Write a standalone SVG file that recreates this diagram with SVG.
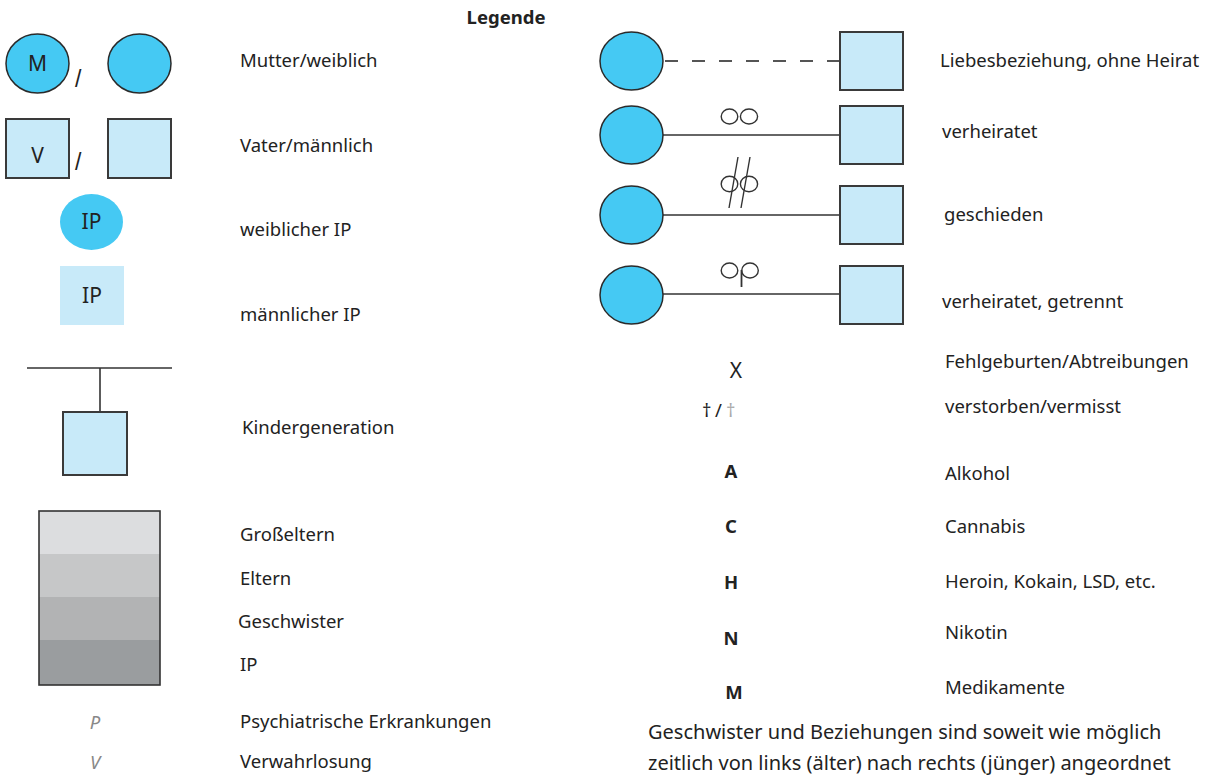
<svg xmlns="http://www.w3.org/2000/svg" width="1227" height="780" viewBox="0 0 1227 780">
<style>
text{font-family:"Noto Sans","Liberation Sans",Arial,sans-serif;font-size:18.5px;fill:#222}
.f{fill:#45c9f3;stroke:#2a2a2a;stroke-width:1.5}
.fn{fill:#45c9f3}
.m{fill:#c8eaf9;stroke:#3a3a3a;stroke-width:2}
.mn{fill:#c8eaf9}
.ln{stroke:#333;stroke-width:1.6;fill:none}
.sym{stroke:#333;stroke-width:1.4;fill:none}
.c{text-anchor:middle}
.b{font-weight:bold}
.g{fill:#888;font-style:italic}
.sl{font-family:"Liberation Sans",Arial,sans-serif;font-size:23px}
.in{font-size:21px}
.bt{font-size:20px}
</style>
<rect width="1227" height="780" fill="#fff"/>
<text class="c b" x="506" y="24">Legende</text>

<g id="mother">
<ellipse class="f" cx="37.5" cy="63.5" rx="31.5" ry="29.5"/>
<text class="c in" x="37.5" y="71">M</text>
<text class="sl" x="75" y="87">/</text>
<ellipse class="f" cx="139.5" cy="63.5" rx="31.5" ry="29.5"/>
</g>
<g id="father">
<rect class="m" x="6" y="119" width="63" height="59"/>
<text class="c in" x="37.5" y="163">V</text>
<text class="sl" x="75" y="170">/</text>
<rect class="m" x="108" y="119" width="63" height="59"/>
</g>
<g id="female-ip">
<ellipse class="fn" cx="91.5" cy="222" rx="31.5" ry="28"/>
<text class="c in" x="91.5" y="229">IP</text>
</g>
<g id="male-ip">
<rect class="mn" x="60" y="266" width="64" height="59"/>
<text class="c in" x="92" y="303">IP</text>
</g>
<g id="child">
<line class="ln" x1="27" y1="368" x2="172" y2="368"/>
<line class="ln" x1="100" y1="368" x2="100" y2="412"/>
<rect class="m" x="63" y="412" width="64" height="63"/>
</g>
<g id="generations">
<rect x="39" y="511" width="121" height="43" fill="#dcdddf"/>
<rect x="39" y="554" width="121" height="43" fill="#c6c7c8"/>
<rect x="39" y="597" width="121" height="43" fill="#b2b3b4"/>
<rect x="39" y="640" width="121" height="45" fill="#9a9d9f"/>
<rect x="39" y="511" width="121" height="174" fill="none" stroke="#333" stroke-width="1.6"/>
</g>
<text class="g c" x="95" y="729">P</text>
<text class="g c" x="95" y="769">V</text>

<text x="240" y="67">Mutter/weiblich</text>
<text x="240" y="152">Vater/männlich</text>
<text x="240" y="236">weiblicher IP</text>
<text x="240" y="321">männlicher IP</text>
<text x="242" y="434">Kindergeneration</text>
<text x="240" y="541">Großeltern</text>
<text x="240" y="585">Eltern</text>
<text x="238" y="628">Geschwister</text>
<text x="240" y="671">IP</text>
<text x="240" y="728">Psychiatrische Erkrankungen</text>
<text x="240" y="768">Verwahrlosung</text>

<g id="connectors">
<line x1="663" y1="61" x2="840" y2="61" stroke="#555" stroke-width="2" stroke-dasharray="13 14" stroke-dashoffset="-2"/>
<line class="ln" x1="663" y1="135" x2="840" y2="135"/>
<line class="ln" x1="663" y1="215" x2="840" y2="215"/>
<line class="ln" x1="663" y1="294" x2="840" y2="294"/>
</g>

<g id="rel-love">
<ellipse class="f" cx="631.5" cy="61" rx="31.5" ry="29"/>
<rect class="m" x="840" y="32" width="63" height="58"/>
</g>
<g id="rel-married">
<ellipse class="f" cx="631.5" cy="135" rx="31.5" ry="29"/>
<rect class="m" x="840" y="106" width="63" height="58"/>
<ellipse class="sym" cx="729.5" cy="116.5" rx="8.3" ry="7.5"/>
<ellipse class="sym" cx="749" cy="116.5" rx="8.6" ry="7.5"/>
</g>
<g id="rel-divorced">
<ellipse class="f" cx="631.5" cy="215" rx="31.5" ry="29"/>
<rect class="m" x="840" y="186" width="63" height="58"/>
<ellipse class="sym" cx="729.5" cy="184" rx="8.3" ry="7.8"/>
<ellipse class="sym" cx="749" cy="184" rx="8.6" ry="7.8"/>
<line class="sym" x1="738" y1="157" x2="729" y2="208"/>
<line class="sym" x1="750" y1="157" x2="741" y2="208"/>
</g>
<g id="rel-separated">
<ellipse class="f" cx="631.5" cy="295" rx="31.5" ry="29"/>
<rect class="m" x="840" y="266" width="63" height="58"/>
<ellipse class="sym" cx="729.5" cy="270.5" rx="8.3" ry="7.5"/>
<ellipse class="sym" cx="750" cy="270.5" rx="8.3" ry="7.5"/>
<line x1="741.5" y1="270" x2="741.5" y2="287" stroke="#333" stroke-width="1.8"/>
</g>

<text x="940" y="67">Liebesbeziehung, ohne Heirat</text>
<text x="942" y="138">verheiratet</text>
<text x="944" y="221">geschieden</text>
<text x="942" y="308">verheiratet, getrennt</text>

<text class="c in" x="736" y="378">X</text>
<text x="945" y="368">Fehlgeburten/Abtreibungen</text>
<text x="702" y="417">†</text>
<text x="715" y="417">/</text>
<text x="726" y="417" style="fill:#aaa">†</text>
<text x="945" y="413">verstorben/vermisst</text>

<text class="c b" x="731" y="478">A</text>
<text class="c b" x="731" y="533">C</text>
<text class="c b" x="731" y="589">H</text>
<text class="c b" x="731" y="645">N</text>
<text class="c b" x="734" y="699">M</text>
<text x="945" y="480">Alkohol</text>
<text x="945" y="533">Cannabis</text>
<text x="945" y="588">Heroin, Kokain, LSD, etc.</text>
<text x="945" y="639">Nikotin</text>
<text x="945" y="694">Medikamente</text>

<text class="bt" x="648" y="739">Geschwister und Beziehungen sind soweit wie möglich</text>
<text class="bt" x="648" y="770">zeitlich von links (älter) nach rechts (jünger) angeordnet</text>
</svg>
